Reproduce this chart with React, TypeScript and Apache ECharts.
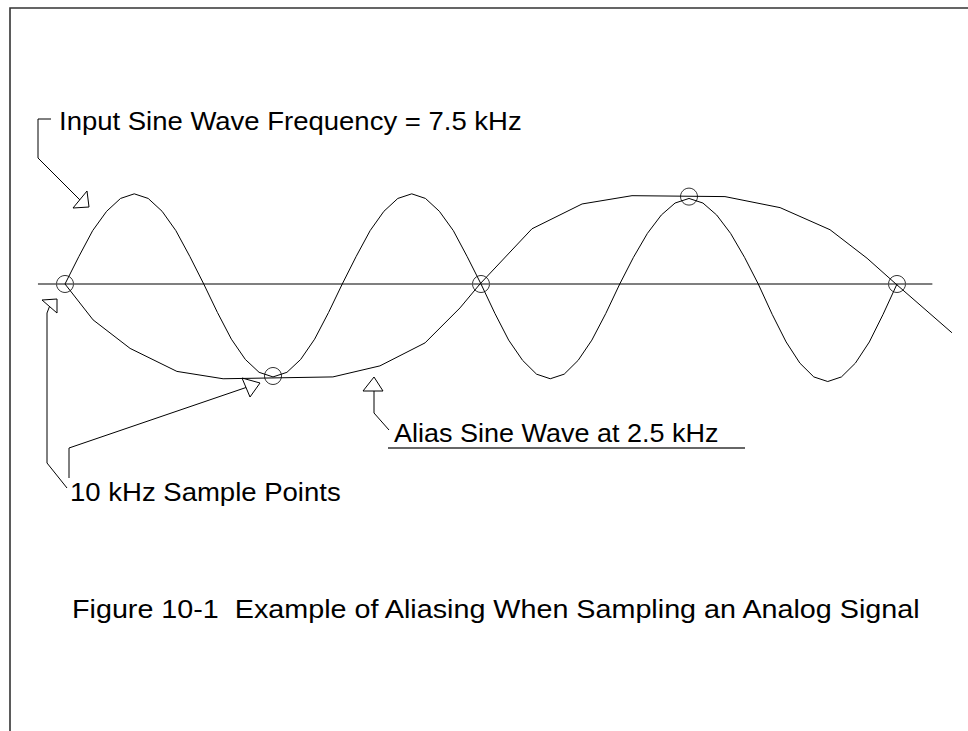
import React, { useEffect, useRef } from "react";
import * as echarts from "echarts";

// time in microseconds, amplitude in relative units
const inputTimes = [
  0, 6.7, 13.3, 20, 26.7, 33.3, 40, 46.7, 53.3, 60,
  66.7, 73.3, 80, 86.7, 93.3, 100, 106.7, 113.3, 120, 126.7,
  133.3, 140, 146.7, 153.3, 160, 166.7, 173.3, 180, 186.7, 193.3,
  200, 206.7, 213.3, 220, 226.7, 233.3, 240, 246.7, 253.3, 260,
  266.7, 273.3, 280, 286.7, 293.3, 300, 306.7, 313.3, 320, 326.7,
  333.3, 340, 346.7, 353.3, 360, 366.7, 373.3, 380, 386.7, 393.3,
  400,
];
const inputValues = [
  0, 0.3, 0.58, 0.79, 0.93, 0.98, 0.93, 0.79, 0.58, 0.3,
  0, -0.31, -0.6, -0.82, -0.96, -1.01, -0.96, -0.82, -0.6, -0.31,
  0, 0.3, 0.58, 0.79, 0.93, 0.98, 0.93, 0.79, 0.58, 0.3,
  0, -0.32, -0.61, -0.83, -0.98, -1.03, -0.98, -0.83, -0.61, -0.32,
  0, 0.29, 0.55, 0.75, 0.88, 0.93, 0.88, 0.75, 0.55, 0.29,
  0, -0.33, -0.63, -0.86, -1.01, -1.06, -1.01, -0.86, -0.63, -0.33,
  0,
];
const aliasTimes = [0, 13.5, 31.3, 53.8, 76.0, 128.8, 151.4, 173.1, 189.9, 199.5, 224.5, 248.6, 272.6, 317.3, 343.8, 367.8, 385.6, 399.5, 426.4];
const aliasValues = [0, -0.39, -0.7, -0.95, -1.03, -1.01, -0.89, -0.64, -0.26, 0, 0.6, 0.87, 0.96, 0.95, 0.83, 0.59, 0.28, 0, -0.53];
const sampleTimes = [0, 100, 200, 300, 400];
const sampleValues = [0, -1.0, 0, 0.95, 0];
const axisTimes = [-13, 417];

const inputLabel = "Input Sine Wave Frequency = 7.5 kHz";
const aliasLabel = "Alias Sine Wave at 2.5 kHz";
const sampleLabel = "10 kHz Sample Points";
const captionLabel = "Figure 10-1  Example of Aliasing When Sampling an Analog Signal";

const FONT = '"Liberation Sans", Arial, sans-serif';

function zip(xs: number[], ys: number[]) {
  return xs.map((x, i) => [x, ys[i]]);
}

export default function App() {
  const ref = useRef<HTMLDivElement>(null);
  useEffect(() => {
    if (!ref.current) return;
    const chart = echarts.init(ref.current, undefined, { renderer: "svg" });
    const lineBlack = { color: "#000", width: 1 };
    const txt = (text: string, x: number, y: number, size: number, sx = 1.08) => ({
      type: "text",
      x,
      y,
      scaleX: sx,
      silent: true,
      style: { text, font: `${size}px ${FONT}`, fill: "#000", align: "left", verticalAlign: "middle" },
    });
    const pl = (points: number[][], color = "#000", w = 1) => ({
      type: "polyline",
      silent: true,
      shape: { points },
      style: { stroke: color, lineWidth: w, fill: "none" },
    });
    const tri = (points: number[][]) => ({
      type: "polygon",
      silent: true,
      shape: { points },
      style: { stroke: "#000", lineWidth: 1, fill: "#fff" },
    });
    chart.setOption({
      animation: false,
      backgroundColor: "#fff",
      grid: { left: 13, right: 8.6, top: 8, bottom: 79 },
      xAxis: { type: "value", min: -25, max: 430, show: false },
      yAxis: { type: "value", min: -4, max: 3, show: false },
      series: [
        {
          type: "line",
          data: zip(axisTimes, [0, 0]),
          symbol: "none",
          silent: true,
          lineStyle: { color: "#555", width: 1.6 },
        },
        {
          type: "line",
          data: zip(inputTimes, inputValues),
          symbol: "none",
          silent: true,
          clip: false,
          lineStyle: lineBlack,
        },
        {
          type: "line",
          data: zip(aliasTimes, aliasValues),
          symbol: "none",
          silent: true,
          clip: false,
          lineStyle: lineBlack,
        },
        {
          type: "scatter",
          data: zip(sampleTimes, sampleValues),
          symbol: "circle",
          symbolSize: 17,
          silent: true,
          itemStyle: { color: "rgba(0,0,0,0)", borderColor: "#000", borderWidth: 1 },
        },
      ],
      graphic: [
        // frame
        pl([[968, 8], [10, 8], [10, 731]], "#333", 1.6),
        // input callout
        pl([[51, 119], [38, 119], [38, 158], [80, 200]]),
        tri([[73, 208], [87, 191], [89, 207]]),
        txt(inputLabel, 59, 121, 25, 1.1),
        // sample callouts
        pl([[67, 488], [47, 463], [47, 313], [49.5, 306.5]]),
        tri([[42, 300], [57, 313], [57, 299]]),
        pl([[69, 478], [69, 448], [246, 387.5]]),
        tri([[242, 378], [250, 397], [260, 383]]),
        txt(sampleLabel, 70, 492, 25.5),
        // alias callout
        pl([[374, 391], [374, 413], [389, 430]]),
        tri([[363, 391], [383, 391], [374, 377]]),
        txt(aliasLabel, 394, 433, 25),
        pl([[388, 448], [745, 448]], "#333", 1.3),
        // caption
        txt(captionLabel, 72, 609, 26.6),
      ],
    });
    return () => chart.dispose();
  }, []);
  return (
    <div
      ref={ref}
      style={{ position: "absolute", left: 0, top: 0, width: 968, height: 731 }}
    />
  );
}
